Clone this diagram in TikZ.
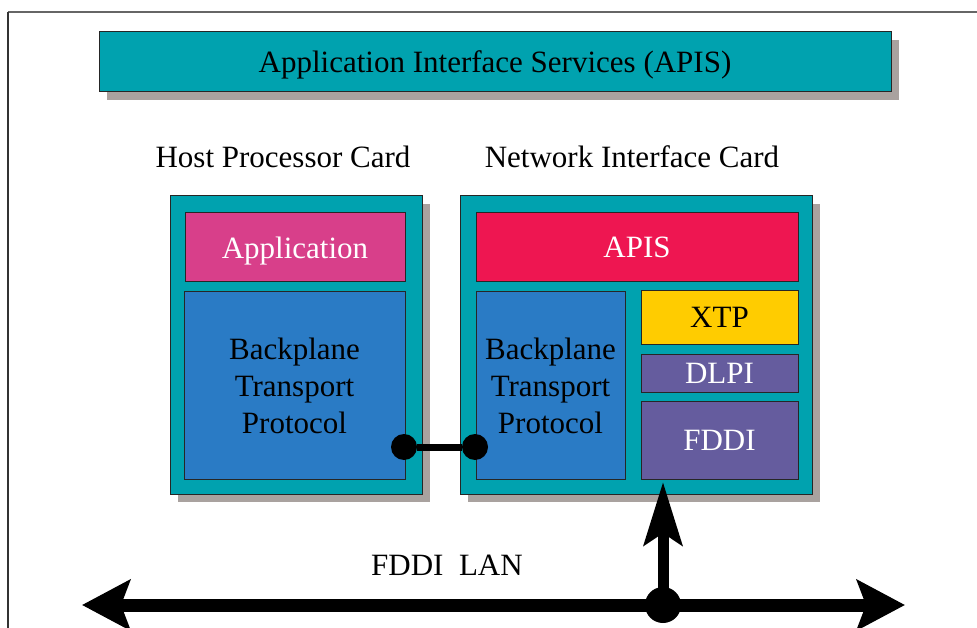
\documentclass[tikz,border=0pt]{standalone}
\usepackage{fontspec}
\setmainfont{Liberation Serif}
\usetikzlibrary{arrows.meta,shadows,positioning}
\definecolor{cardteal}{HTML}{00A2AF}
\definecolor{shade}{HTML}{A9A29F}
\definecolor{appmag}{HTML}{D83F8A}
\definecolor{apisred}{HTML}{EE1651}
\definecolor{btpblue}{HTML}{2A7BC5}
\definecolor{xtpyel}{HTML}{FFCC00}
\definecolor{lowpurp}{HTML}{655C9E}
\tikzset{x=1pt,y=-1pt,
  every node/.style={font=\fontsize{31}{37}\selectfont,inner sep=0pt,outer sep=0pt},
  box/.style={draw=black!85,line width=1pt,anchor=north west,align=center},
  card/.style={box,fill=cardteal,drop shadow={shadow xshift=8pt,shadow yshift=-8pt,fill=shade,opacity=1}},
  dot/.style={circle,fill=black,minimum size=26pt},
  link/.style={line width=7pt},
  lan/.style={line width=13pt,{Stealth[length=48pt,width=50pt,inset=9pt]}-{Stealth[length=48pt,width=50pt,inset=9pt]}},
  tapline/.style={line width=11pt,-{Stealth[length=63pt,width=38pt,inset=12pt]}}}

\begin{document}
\begin{tikzpicture}
        \useasboundingbox (0,0) rectangle (977,628);
        \draw[black!60,line width=2pt] (8,12) -- (977,12);
        \draw[black!80,line width=1.2pt] (8,12) -- (8,628);
        \node[card,text depth=0pt,minimum width=792pt,minimum height=60pt] (title) at (99,32) {Application Interface Services (APIS)};
        \node (hostlbl) at (283,157) {Host Processor Card};
        \node (niclbl) at (632,157) {Network Interface Card};
        \node[card,minimum width=252pt,minimum height=298pt] (host) at (170,196) {};
        \node[card,minimum width=352pt,minimum height=298pt] (nic) at (460,196) {};
        \node[box,fill=appmag,text=white,text depth=0pt,minimum width=220pt,minimum height=69pt] (app) at (185,213) {Application};
        \node[box,fill=btpblue,minimum width=221pt,minimum height=187pt] (hbtp) at (184,292) {Backplane\\Transport\\Protocol};
        \node[box,fill=apisred,text=white,minimum width=322pt,minimum height=69pt] (apis) at (476,213) {APIS};
        \node[box,fill=btpblue,minimum width=149pt,minimum height=187pt] (nbtp) at (476,292) {Backplane\\Transport\\Protocol};
        \node[box,fill=xtpyel,minimum width=157pt,minimum height=53pt] (xtp) at (641,291) {XTP};
        \node[box,fill=lowpurp,text=white,minimum width=157pt,minimum height=38pt] (dlpi) at (641,354) {DLPI};
        \node[box,fill=lowpurp,text=white,minimum width=157pt,minimum height=78pt] (fddi) at (641,401) {FDDI};
        \node[dot] (hdot) at (404,447) {};
        \node[dot] (ndot) at (475,447) {};
        \draw[link] (hdot) -- (ndot);
        \coordinate (lanl) at (82,605);
        \coordinate (lanr) at (905,605);
        \coordinate (tapin) at (663,482);
        \draw[lan] (lanl) -- (lanr);
        \node[dot,minimum size=36pt] (tap) at (663,605) {};
        \draw[tapline] (tap.center) -- (tapin);
        \node (lanlbl) at (447,565) {FDDI\ \ LAN};
    \end{tikzpicture}
\end{document}
